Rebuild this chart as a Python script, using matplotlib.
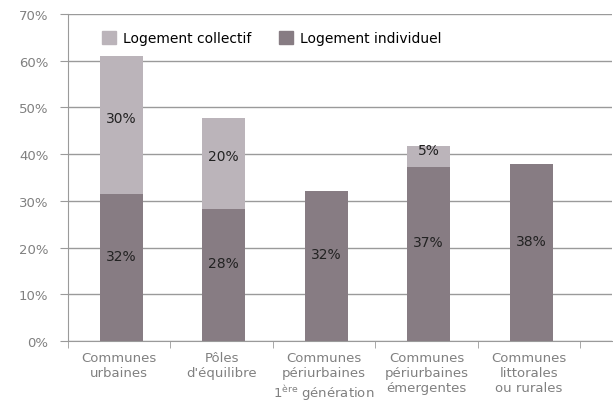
import numpy as np
import matplotlib.pyplot as plt
from matplotlib.patches import Patch

# Données (en %)
categories = ["Communes\nurbaines", "Pôles\nd'équilibre",
              "Communes\npériurbaines\n1$^{\\mathregular{ère}}$ génération",
              "Communes\npériurbaines\némergentes", "Communes\nlittorales\nou rurales"]
individuel = [31.5, 28.2, 32.1, 37.2, 37.8]
collectif = [29.5, 19.6, 0, 4.5, 0]
lab_individuel = ["32%", "28%", "32%", "37%", "38%"]
lab_collectif = ["30%", "20%", "", "5%", ""]

c_coll = '#bbb4ba'
c_ind = '#877c83'
grey = '#808080'

plt.rcParams['font.family'] = ['DejaVu Sans']
plt.rcParams['mathtext.fontset'] = 'dejavusans'

fig = plt.figure(figsize=(6.13, 4.02), dpi=100)
ax = fig.add_axes([68/613, 1-342/402, (612-68)/613, (342-15)/402])

x = np.arange(len(categories))
w = 0.42
ax.bar(x + 0.02, individuel, w, color=c_ind, zorder=3)
ax.bar(x + 0.02, collectif, w, bottom=individuel, color=c_coll, zorder=3)

for i in range(len(x)):
    ax.text(x[i] + 0.02, individuel[i]/2 + 2.5, lab_individuel[i], ha='center', va='center',
            fontsize=10, color='#222222', zorder=4)
    if lab_collectif[i]:
        ax.text(x[i] + 0.02, individuel[i] + collectif[i]/2 + 1.5, lab_collectif[i], ha='center',
                va='center', fontsize=10, color='#222222', zorder=4)

ax.set_ylim(0, 70)
ax.set_xlim(-0.5, 4.81)
ax.set_yticks(np.arange(0, 71, 10))
ax.set_yticklabels([f"{v}%" for v in range(0, 71, 10)])
ax.yaxis.grid(True, color='#9a9a9a', linewidth=1, zorder=0)
ax.set_axisbelow(True)

ax.set_xticks(x)
ax.set_xticklabels(categories, fontsize=9.5, color=grey, linespacing=1.2)
ax.set_xticks(np.arange(-0.5, 5, 1), minor=True)
ax.tick_params(axis='x', which='major', length=0, pad=7)
ax.tick_params(axis='x', which='minor', length=5, color='#9a9a9a')
ax.tick_params(axis='y', length=6, color='#9a9a9a', labelcolor=grey, labelsize=9.5, pad=8)

for s in ['top', 'right']:
    ax.spines[s].set_visible(False)
for s in ['left', 'bottom']:
    ax.spines[s].set_color('#9a9a9a')

handles = [Patch(color=c_coll, label='Logement collectif'),
           Patch(color=c_ind, label='Logement individuel')]
ax.legend(handles=handles, ncol=2, loc='upper left', bbox_to_anchor=(0.04, 0.985),
          frameon=False, fontsize=10, handlelength=1.0,
          handleheight=1.0, handletextpad=0.5, columnspacing=2.0)

fig.savefig('out.png', dpi=100)
